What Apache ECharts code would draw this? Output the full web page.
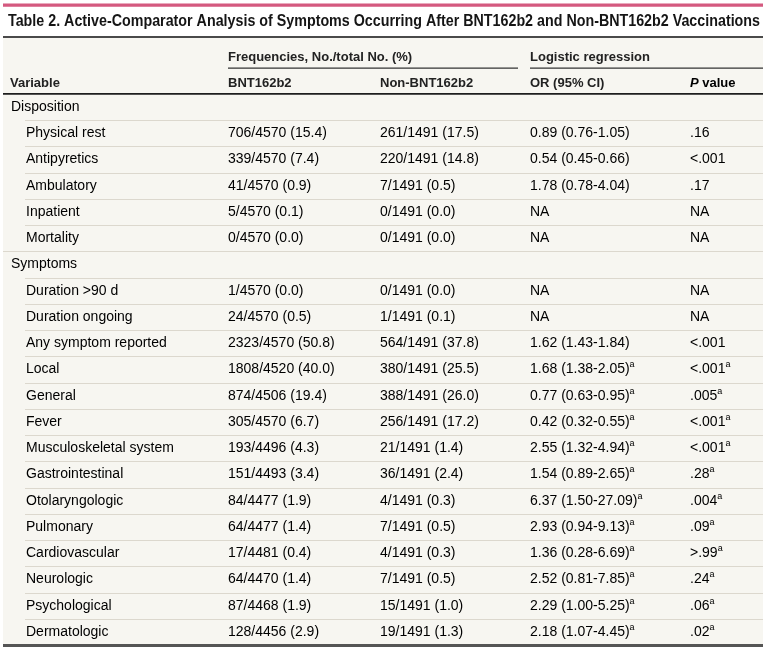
<!DOCTYPE html>
<html><head><meta charset="utf-8">
<script src="https://cdn.jsdelivr.net/npm/echarts@6/dist/echarts.min.js"></script>
<style>html,body{margin:0;padding:0;background:#fff}#c{width:768px;height:650px}</style>
</head><body><div id="c"></div>
<script>
// ---------------- DATA ----------------
const titleText = 'Table 2. Active-Comparator Analysis of Symptoms Occurring After BNT162b2 and Non-BNT162b2 Vaccinations';
const groupHeaders = ['Frequencies, No./total No. (%)', 'Logistic regression'];
const columnHeaders = ['Variable', 'BNT162b2', 'Non-BNT162b2', 'OR (95% CI)', 'P value'];
const rowLabels = ['Disposition', 'Physical rest', 'Antipyretics', 'Ambulatory', 'Inpatient', 'Mortality',
  'Symptoms', 'Duration >90 d', 'Duration ongoing', 'Any symptom reported', 'Local', 'General', 'Fever',
  'Musculoskeletal system', 'Gastrointestinal', 'Otolaryngologic', 'Pulmonary', 'Cardiovascular',
  'Neurologic', 'Psychological', 'Dermatologic'];
const rowIsGroup = [1,0,0,0,0,0, 1,0,0,0,0,0,0,0,0,0,0,0,0,0,0];
const bntFreq = ['', '706/4570 (15.4)', '339/4570 (7.4)', '41/4570 (0.9)', '5/4570 (0.1)', '0/4570 (0.0)',
  '', '1/4570 (0.0)', '24/4570 (0.5)', '2323/4570 (50.8)', '1808/4520 (40.0)', '874/4506 (19.4)',
  '305/4570 (6.7)', '193/4496 (4.3)', '151/4493 (3.4)', '84/4477 (1.9)', '64/4477 (1.4)',
  '17/4481 (0.4)', '64/4470 (1.4)', '87/4468 (1.9)', '128/4456 (2.9)'];
const nonBntFreq = ['', '261/1491 (17.5)', '220/1491 (14.8)', '7/1491 (0.5)', '0/1491 (0.0)', '0/1491 (0.0)',
  '', '0/1491 (0.0)', '1/1491 (0.1)', '564/1491 (37.8)', '380/1491 (25.5)', '388/1491 (26.0)',
  '256/1491 (17.2)', '21/1491 (1.4)', '36/1491 (2.4)', '4/1491 (0.3)', '7/1491 (0.5)',
  '4/1491 (0.3)', '7/1491 (0.5)', '15/1491 (1.0)', '19/1491 (1.3)'];
const orCI = ['', '0.89 (0.76-1.05)', '0.54 (0.45-0.66)', '1.78 (0.78-4.04)', 'NA', 'NA',
  '', 'NA', 'NA', '1.62 (1.43-1.84)', '1.68 (1.38-2.05)', '0.77 (0.63-0.95)', '0.42 (0.32-0.55)',
  '2.55 (1.32-4.94)', '1.54 (0.89-2.65)', '6.37 (1.50-27.09)', '2.93 (0.94-9.13)', '1.36 (0.28-6.69)',
  '2.52 (0.81-7.85)', '2.29 (1.00-5.25)', '2.18 (1.07-4.45)'];
const pValue = ['', '.16', '<.001', '.17', 'NA', 'NA',
  '', 'NA', 'NA', '<.001', '<.001', '.005', '<.001', '<.001', '.28', '.004', '.09', '>.99',
  '.24', '.06', '.02'];
const footnoteA = [0,0,0,0,0,0, 0,0,0,0,1,1,1,1,1,1,1,1,1,1,1];

// ---------------- LAYOUT / STYLE ----------------
const W = 768;
const tableLeft = 3, tableRight = 763;
const colX = [26, 228, 380, 530, 690];
const groupLabelX = 11;
const bodyFont = '"Liberation Sans", Arial, sans-serif';
const textColor = '#1e1e1e';
const sepColor = '#dcd8ce';

// title: bold sans, horizontally condensed to the reference width
const titleSize = 17;
const ctx = document.createElement('canvas').getContext('2d');
ctx.font = 'bold ' + titleSize + 'px ' + bodyFont;
const titleW = ctx.measureText(titleText).width;
const titleScale = Math.min(1, 752 / titleW);

const richCell = {
  t: { fontSize: 14, fontFamily: bodyFont, color: textColor, lineHeight: 18 },
  sup: { fontSize: 9, fontFamily: bodyFont, color: textColor, lineHeight: 9, verticalAlign: 'top' }
};
function cellText(s, sup) {
  return sup ? '{t|' + s + '}{sup|a}' : '{t|' + s + '}';
}

const chart = echarts.init(document.getElementById('c'), null, { renderer: 'canvas' });

const headerStyle = { fontSize: 13, fontWeight: 'bold', fontFamily: bodyFont, fill: '#222' };

chart.setOption({
  animation: false,
  backgroundColor: '#ffffff',
  grid: { left: 0, right: 0, top: 94, bottom: 5 },
  xAxis: { type: 'value', min: 0, max: W, show: false },
  yAxis: { type: 'category', data: rowLabels, inverse: true, show: false },
  graphic: [
    { type: 'rect', z: -5, shape: { x: tableLeft, y: 37, width: tableRight - tableLeft, height: 609 }, style: { fill: '#f7f6f1' } },
    { type: 'rect', z: 10, shape: { x: tableLeft, y: 3.5, width: tableRight - tableLeft, height: 3.2 }, style: { fill: '#d4597f' } },
    { type: 'text', z: 10, x: 8, y: 21.5, scaleX: titleScale,
      style: { text: titleText, x: 0, y: 0, verticalAlign: 'middle', fontSize: titleSize, fontWeight: 'bold', fontFamily: bodyFont, fill: '#151515' } },
    { type: 'rect', z: 10, shape: { x: tableLeft, y: 36, width: tableRight - tableLeft, height: 2 }, style: { fill: '#4a4a4a' } },
    { type: 'text', z: 10, style: Object.assign({ text: groupHeaders[0], x: colX[1], y: 57, verticalAlign: 'middle' }, headerStyle) },
    { type: 'text', z: 10, style: Object.assign({ text: groupHeaders[1], x: colX[3], y: 57, verticalAlign: 'middle' }, headerStyle) },
    { type: 'rect', z: 10, shape: { x: colX[1], y: 67.5, width: 518 - colX[1], height: 1.2 }, style: { fill: '#333' } },
    { type: 'rect', z: 10, shape: { x: colX[3], y: 67.5, width: tableRight - colX[3], height: 1.2 }, style: { fill: '#333' } },
    { type: 'text', z: 10, style: Object.assign({ text: columnHeaders[0], x: 10, y: 83, verticalAlign: 'middle' }, headerStyle) },
    { type: 'text', z: 10, style: Object.assign({ text: columnHeaders[1], x: colX[1], y: 83, verticalAlign: 'middle' }, headerStyle) },
    { type: 'text', z: 10, style: Object.assign({ text: columnHeaders[2], x: colX[2], y: 83, verticalAlign: 'middle' }, headerStyle) },
    { type: 'text', z: 10, style: Object.assign({ text: columnHeaders[3], x: colX[3], y: 83, verticalAlign: 'middle' }, headerStyle) },
    { type: 'text', z: 10, style: {
        text: '{i|' + columnHeaders[4].split(' ')[0] + '}{n| ' + columnHeaders[4].split(' ').slice(1).join(' ') + '}',
        x: colX[4], y: 83, verticalAlign: 'middle',
        rich: {
          i: { fontSize: 13, fontWeight: 'bold', fontStyle: 'italic', fontFamily: bodyFont, color: '#222' },
          n: { fontSize: 13, fontWeight: 'bold', fontFamily: bodyFont, color: '#222' }
        } } },
    { type: 'rect', z: 10, shape: { x: tableLeft, y: 93, width: tableRight - tableLeft, height: 1.8 }, style: { fill: '#1e1e1e' } },
    { type: 'rect', z: 10, shape: { x: tableLeft, y: 644, width: tableRight - tableLeft, height: 3 }, style: { fill: '#555' } }
  ],
  series: [{
    type: 'custom',
    z: 2,
    data: rowLabels.map((_, i) => [0, i]),
    encode: { x: 0, y: 1 },
    renderItem: function (params, api) {
      const i = api.value(1);
      const y = api.coord([0, i])[1];
      const h = api.size([0, 1])[1];
      const children = [];
      const xLabel = rowIsGroup[i] ? groupLabelX : api.coord([colX[0], i])[0];
      children.push({ type: 'text', style: { text: cellText(rowLabels[i], false), rich: richCell, x: xLabel, y: y, verticalAlign: 'middle' } });
      const cols = [bntFreq[i], nonBntFreq[i], orCI[i], pValue[i]];
      cols.forEach(function (v, k) {
        if (!v) return;
        const sup = footnoteA[i] && k >= 2;
        children.push({ type: 'text', style: { text: cellText(v, sup), rich: richCell, x: api.coord([colX[k + 1], i])[0], y: y, verticalAlign: 'middle' } });
      });
      if (i < rowLabels.length - 1) {
        const x0 = rowIsGroup[i + 1] ? tableLeft : 25;
        const ly = Math.round(y + h / 2) + 0.5;
        children.push({ type: 'line', shape: { x1: x0, y1: ly, x2: tableRight, y2: ly }, style: { stroke: sepColor, lineWidth: 1 } });
      }
      return { type: 'group', children: children };
    }
  }]
});
</script>
</body></html>
